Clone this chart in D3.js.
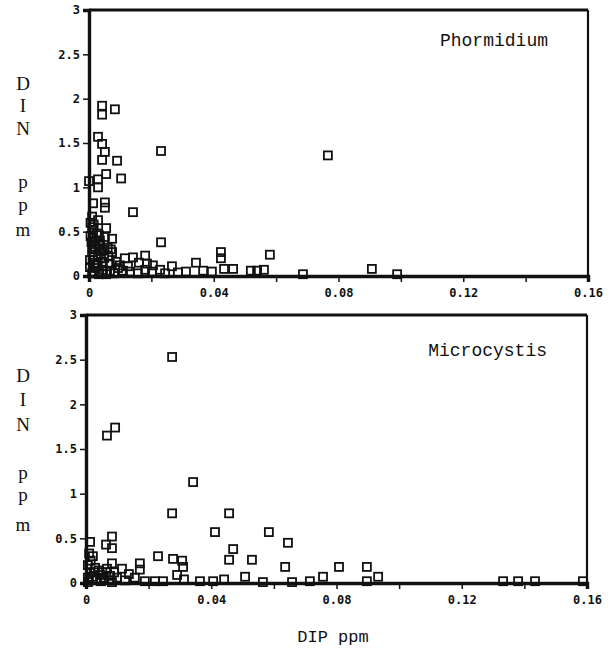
<!DOCTYPE html>
<html lang="en">
<head>
    <meta charset="UTF-8" />
    <title>DIN vs DIP</title>
    <script src="https://d3js.org/d3.v7.min.js"></script>
    <style>
        body {
            margin: 0;
            background: #ffffff;
        }
        .tick-label {
            font-family: "DejaVu Sans Mono", monospace;
            font-weight: bold;
            font-size: 12px;
            fill: #111;
        }
        .ylab {
            font-family: "Liberation Serif", serif;
            font-size: 19px;
            fill: #111;
        }
        .name {
            font-family: "Liberation Mono", monospace;
            font-size: 18px;
            fill: #111;
        }
    </style>
</head>
<body>
    <svg id="chart" width="613" height="648"></svg>
    <script>
        // DIP (ppm) / DIN (ppm) pairs
        const phormDIP = [
            0.0042, 0.0042, 0.0083, 0.0029, 0.0042, 0.0051, 0.0042, 0.0090, 0.0055, 0.0103,
            0.0231, 0.0000, 0.0029, 0.0029, 0.0013, 0.0051, 0.0051, 0.0141, 0.0010, 0.0029,
            0.0010, 0.0055, 0.0032, 0.0074, 0.0231, 0.0074, 0.0115, 0.0141, 0.0180, 0.0205,
            0.0266, 0.0343, 0.0366, 0.0394, 0.0423, 0.0423, 0.0433, 0.0462, 0.0519, 0.0539,
            0.0561, 0.0580, 0.0686, 0.0766, 0.0907, 0.0988,
            0.0013, 0.0013, 0.0051, 0.0019, 0.0035, 0.0060, 0.0010, 0.0029, 0.0048, 0.0003,
            0.0019, 0.0042, 0.0067, 0.0087, 0.0003, 0.0022, 0.0045, 0.0067, 0.0093, 0.0109,
            0.0010, 0.0032, 0.0055, 0.0080, 0.0131, 0.0157, 0.0180, 0.0202, 0.0228, 0.0244,
            0.0285, 0.0311, 0.0099, 0.0125, 0.0160, 0.0186,
            0.0005, 0.0015, 0.0025, 0.0035, 0.0008, 0.0020, 0.0030, 0.0040, 0.0012, 0.0024,
            0.0038, 0.0050, 0.0062, 0.0070, 0.0016, 0.0028, 0.0044, 0.0058, 0.0005, 0.0022
        ];
        const phormDIN = [
            1.92, 1.82, 1.88, 1.57, 1.49, 1.40, 1.31, 1.30, 1.15, 1.10,
            1.41, 1.07, 1.09, 1.00, 0.82, 0.83, 0.77, 0.72, 0.67, 0.63,
            0.55, 0.54, 0.46, 0.42, 0.38, 0.27, 0.20, 0.21, 0.23, 0.12,
            0.11, 0.15, 0.06, 0.05, 0.27, 0.20, 0.08, 0.08, 0.06, 0.06,
            0.07, 0.24, 0.02, 1.36, 0.08, 0.02,
            0.52, 0.43, 0.44, 0.33, 0.36, 0.32, 0.27, 0.23, 0.20, 0.18,
            0.15, 0.16, 0.14, 0.16, 0.10, 0.09, 0.07, 0.06, 0.09, 0.06,
            0.03, 0.02, 0.02, 0.03, 0.05, 0.03, 0.07, 0.05, 0.07, 0.03,
            0.04, 0.05, 0.12, 0.11, 0.15, 0.14,
            0.60, 0.58, 0.48, 0.40, 0.38, 0.30, 0.35, 0.28, 0.22, 0.12,
            0.25, 0.30, 0.22, 0.30, 0.05, 0.12, 0.11, 0.05, 0.45, 0.40
        ];

        const microDIP = [
            0.0275, 0.0067, 0.0093, 0.0342, 0.0275, 0.0457, 0.0412, 0.0584, 0.0645, 0.0013,
            0.0022, 0.0064, 0.0083, 0.0083, 0.0083, 0.0115, 0.0172, 0.0172, 0.0230, 0.0278,
            0.0307, 0.0310, 0.0291, 0.0470, 0.0457, 0.0530, 0.0636, 0.0220, 0.0246, 0.0364,
            0.0406, 0.0441, 0.0508, 0.0565, 0.0658, 0.0715, 0.0757, 0.0808, 0.0897, 0.0897,
            0.0933, 0.1332, 0.1380, 0.1434, 0.1587, 0.0156, 0.0313,
            0.0067, 0.0006, 0.0013, 0.0029, 0.0045, 0.0032, 0.0057, 0.0077, 0.0099, 0.0125,
            0.0137, 0.0006, 0.0006, 0.0083, 0.0188,
            0.0015, 0.0025, 0.0040, 0.0052, 0.0010, 0.0020, 0.0035, 0.0048, 0.0065, 0.0090
        ];
        const microDIN = [
            2.53, 1.65, 1.74, 1.13, 0.78, 0.78, 0.57, 0.57, 0.45, 0.46,
            0.30, 0.43, 0.52, 0.39, 0.22, 0.16, 0.22, 0.15, 0.30, 0.27,
            0.25, 0.18, 0.09, 0.38, 0.26, 0.26, 0.18, 0.02, 0.02, 0.02,
            0.02, 0.04, 0.07, 0.01, 0.01, 0.02, 0.07, 0.18, 0.18, 0.02,
            0.07, 0.02, 0.02, 0.02, 0.02, 0.06, 0.04,
            0.16, 0.20, 0.12, 0.17, 0.09, 0.03, 0.06, 0.08, 0.06, 0.03,
            0.10, 0.06, 0.01, 0.01, 0.02,
            0.25, 0.12, 0.14, 0.12, 0.33, 0.07, 0.05, 0.02, 0.12, 0.12
        ];

        const xTicks = [0, 0.02, 0.04, 0.06, 0.08, 0.10, 0.12, 0.14, 0.16];
        const xLabels = [0, 0.04, 0.08, 0.12, 0.16];
        const yTicks = [0, 0.5, 1, 1.5, 2, 2.5, 3];
        const yLetters = ["D", "I", "N", "p", "p", "m"];

        const svg = d3.select("#chart");

        function fmtX(v) {
            return v === 0 ? "0" : d3.format(".2f")(v);
        }

        function drawPanel(box, dip, din, name, nameY, letterYs) {
            const x = d3.scaleLinear().domain([0, 0.16]).range([box.left, box.right]);
            const y = d3.scaleLinear().domain([0, 3]).range([box.bottom, box.top]);
            const g = svg.append("g");

            // points first so the frame sits on top
            const pts = d3.range(dip.length).map(i => ({ x: dip[i], y: din[i] }));
            const s = 8;
            g.selectAll("rect.pt")
                .data(pts)
                .enter().append("rect")
                .attr("class", "pt")
                .attr("x", d => x(d.x) - s / 2)
                .attr("y", d => y(d.y) - s / 2)
                .attr("width", s)
                .attr("height", s)
                .attr("fill", "none")
                .attr("stroke", "#111")
                .attr("stroke-width", 1.8);

            // frame: top and right thinner
            g.append("line")
                .attr("x1", box.left).attr("x2", box.right)
                .attr("y1", box.top).attr("y2", box.top)
                .attr("stroke", "#111").attr("stroke-width", 2.8);
            g.append("line")
                .attr("x1", box.right).attr("x2", box.right)
                .attr("y1", box.top).attr("y2", box.bottom)
                .attr("stroke", "#111").attr("stroke-width", 2.2);

            // y axis
            const yAxis = d3.axisLeft(y).tickValues(yTicks).tickSize(6).tickPadding(3)
                .tickFormat(d => d === 0 ? "0" : String(d));
            const ya = g.append("g").attr("transform", `translate(${box.left},0)`).call(yAxis);
            ya.select(".domain").attr("stroke", "#111").attr("stroke-width", 3.4);
            ya.selectAll(".tick line").attr("stroke", "#111").attr("stroke-width", 1.5);
            ya.selectAll(".tick text").attr("class", "tick-label").attr("fill", null);

            // x axis
            const xAxis = d3.axisBottom(x).tickValues(xTicks).tickSize(6).tickPadding(6)
                .tickFormat(d => xLabels.some(v => Math.abs(v - d) < 1e-9) ? fmtX(d) : "");
            const xa = g.append("g").attr("transform", `translate(0,${box.bottom})`).call(xAxis);
            xa.select(".domain").attr("stroke", "#111").attr("stroke-width", 3.4);
            xa.selectAll(".tick line").attr("stroke", "#111").attr("stroke-width", 1.5);
            xa.selectAll(".tick text").attr("class", "tick-label").attr("fill", null);

            // species name
            g.append("text")
                .attr("class", "name")
                .attr("x", box.right - 40)
                .attr("y", nameY)
                .attr("text-anchor", "end")
                .text(name);

            // stacked y label
            g.selectAll("text.ylab")
                .data(yLetters)
                .enter().append("text")
                .attr("class", "ylab")
                .attr("x", 23)
                .attr("y", (d, i) => letterYs[i])
                .attr("text-anchor", "middle")
                .text(d => d);
        }

        drawPanel({ left: 89, right: 588, top: 10, bottom: 276 },
            phormDIP, phormDIN, "Phormidium", 46, [90, 112, 135, 188, 211, 236]);
        drawPanel({ left: 86, right: 587, top: 315, bottom: 583 },
            microDIP, microDIN, "Microcystis", 356, [382, 406, 431, 479, 501, 531]);

        svg.append("text")
            .attr("x", 333)
            .attr("y", 642)
            .attr("text-anchor", "middle")
            .style("font-family", "Liberation Mono, monospace")
            .style("font-size", "17px")
            .style("fill", "#111")
            .text("DIP ppm");
    </script>
</body>
</html>
